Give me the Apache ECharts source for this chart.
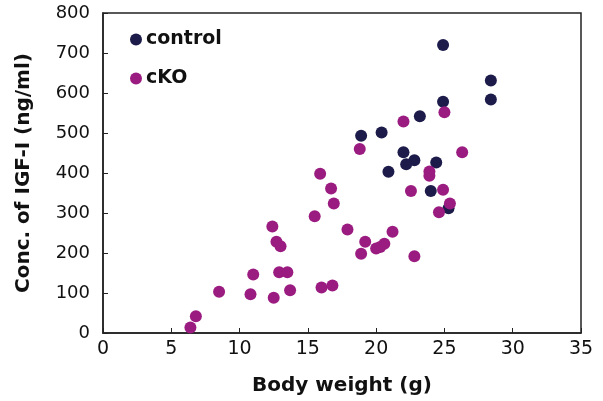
<!DOCTYPE html>
<html>
<head>
<meta charset="utf-8">
<script src="https://cdn.jsdelivr.net/npm/echarts@6/dist/echarts.min.js"></script>
<style>
    html, body { margin: 0; padding: 0; background: #fff; }
    #chart { width: 603px; height: 401px; }
</style>
</head>
<body>
<div id="chart"></div>
<script>
// body weight (g) and IGF-I (ng/ml)
var controlWeight = [24.9, 28.4, 28.4, 24.9, 23.2, 20.4, 18.9, 22.0, 22.8, 22.2, 24.4, 20.9, 24.0, 25.3]
var controlIgf = [720, 631, 584, 578, 542, 501, 493, 452, 432, 422, 426, 403, 355, 312]

var ckoWeight = [22.0, 25.0, 18.8, 26.3, 23.9, 23.9, 22.55, 24.9, 25.4, 24.6, 17.9, 21.2, 19.2, 20.0, 20.6, 18.9, 22.8, 20.3,
    15.9, 16.7, 16.9, 15.5, 12.4, 12.7, 13.0, 11.0, 12.9, 13.5, 8.5, 10.8, 12.5, 13.7, 16.0, 16.8, 6.8, 6.4]
var ckoIgf = [529, 552, 460, 452, 404, 393, 355, 358, 324, 302, 259, 253, 228, 211, 223, 198, 192, 215,
    398, 361, 324, 292, 266, 228, 217, 146, 152, 152, 103, 97, 88, 107, 114, 119, 42, 14]

var xTicks = [0, 5, 10, 15, 20, 25, 30, 35]
var yTicks = [0, 100, 200, 300, 400, 500, 600, 700, 800]

function pairs (xs, ys) {
    return xs.map(function (x, i) { return [x, ys[i]] })
}

var font = 'DejaVu Sans'
var ink = '#222'

var chart = echarts.init(document.getElementById('chart'))
var option = {
    animation: false,
    grid: {
        left: 103,
        right: 22,
        top: 13,
        bottom: 60,
        show: true,
        borderColor: ink,
        borderWidth: 1.5
    },
    legend: {
        orient: 'vertical',
        left: 125,
        top: 25,
        itemWidth: 12,
        itemHeight: 12,
        itemGap: 20,
        icon: 'circle',
        textStyle: { fontFamily: font, fontSize: 19, fontWeight: 'bold', color: '#111', padding: [0, 0, 0, -1] },
        data: ['control', 'cKO']
    },
    xAxis: {
        type: 'value',
        min: xTicks[0],
        max: xTicks[xTicks.length - 1],
        interval: 5,
        name: 'Body weight (g)',
        nameLocation: 'middle',
        nameGap: 43,
        nameTextStyle: { fontFamily: font, fontSize: 20, fontWeight: 'bold', color: '#111' },
        axisLine: { lineStyle: { color: ink, width: 1.5 } },
        axisTick: { inside: true, length: 5, lineStyle: { color: ink } },
        axisLabel: { fontFamily: font, fontSize: 19, color: '#111', margin: 7 },
        splitLine: { show: false }
    },
    yAxis: {
        type: 'value',
        min: yTicks[0],
        max: yTicks[yTicks.length - 1],
        interval: 100,
        name: 'Conc. of IGF-I (ng/ml)',
        nameLocation: 'middle',
        nameGap: 69,
        nameTextStyle: { fontFamily: font, fontSize: 20, fontWeight: 'bold', color: '#111' },
        axisLine: { show: true, lineStyle: { color: ink, width: 1.5 } },
        axisTick: { show: true, inside: true, length: 5, lineStyle: { color: ink } },
        axisLabel: { fontFamily: font, fontSize: 18, color: '#111', margin: 13 },
        splitLine: { show: false }
    },
    series: [
        {
            name: 'control',
            type: 'scatter',
            symbolSize: 12,
            itemStyle: { color: '#1c1b4a', opacity: 1 },
            data: pairs(controlWeight, controlIgf)
        },
        {
            name: 'cKO',
            type: 'scatter',
            symbolSize: 12,
            itemStyle: { color: '#9b1c80', opacity: 1 },
            data: pairs(ckoWeight, ckoIgf)
        }
    ]
}
chart.setOption(option)
</script>
</body>
</html>
